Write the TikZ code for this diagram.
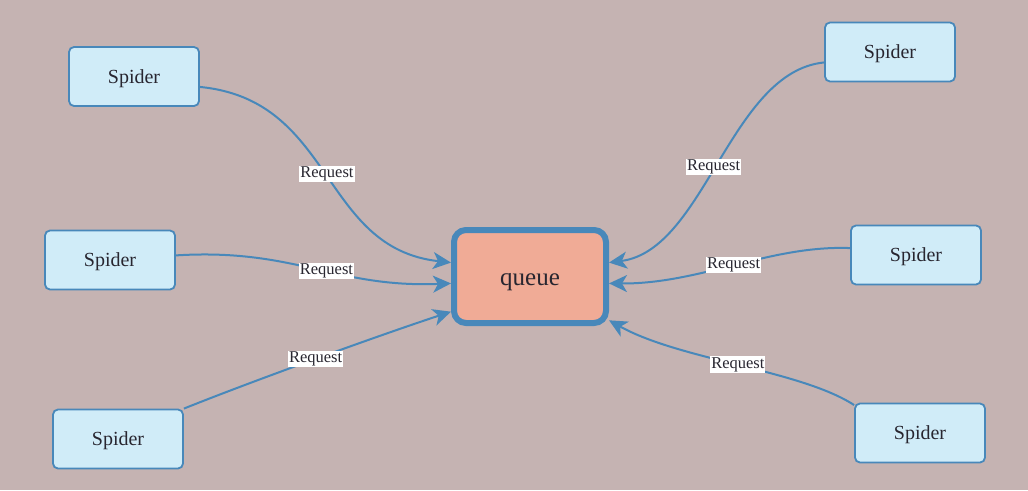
\documentclass[tikz,border=0pt]{standalone}
\usepackage{fontspec}
\setmainfont{Liberation Serif}
\usetikzlibrary{arrows.meta}
\definecolor{bgpaper}{RGB}{197,179,178}
\definecolor{linkblue}{RGB}{72,136,186}
\definecolor{spiderfill}{RGB}{208,236,248}
\definecolor{queuefill}{RGB}{240,171,150}
\definecolor{inkdark}{RGB}{40,38,48}
\begin{document}
\begin{tikzpicture}[x=1pt,y=-1pt,
  spiderbox/.style={draw=linkblue, line width=1.8pt, fill=spiderfill, rounded corners=5pt,
    minimum width=130pt, minimum height=59pt, text=inkdark, font=\fontsize{20}{22}\selectfont,
    text height=13pt, text depth=0pt},
  queuebox/.style={draw=linkblue, line width=6pt, fill=queuefill, rounded corners=12pt,
    minimum width=152pt, minimum height=93pt, text=inkdark, font=\fontsize{25}{28}\selectfont,
    text height=18pt, text depth=0pt},
  link/.style={draw=linkblue, line width=2pt, -{Stealth[length=18pt,width=17pt,inset=5pt]}},
  reqlabel/.style={fill=white, inner sep=1pt, text=inkdark, font=\fontsize{16.5}{18}\selectfont}]
\useasboundingbox (0,0) rectangle (1028,490);
\fill[bgpaper] (0,0) rectangle (1028,490);
\node[queuebox] (queue) at (530,276.5) {queue};
\node[spiderbox] (tl) at (134,76.5) {Spider};
\node[spiderbox] (ml) at (110,260) {Spider};
\node[spiderbox] (bl) at (118,439) {Spider};
\node[spiderbox] (tr) at (890,52) {Spider};
\node[spiderbox] (mr) at (916,255) {Spider};
\node[spiderbox] (br) at (920,433) {Spider};
\draw[link] (tl.-9) .. controls (335,100) and (320,248) .. (queue.170) node[pos=0.5, reqlabel] {Request};
\draw[link] (ml.4) .. controls (295,248) and (335,288) .. (queue.185) node[pos=0.55, reqlabel] {Request};
\draw[link] (bl.north east) .. controls (250,382) and (380,335) .. (queue.204) node[pos=0.5, reqlabel] {Request};
\draw[link] (tr.189) .. controls (730,72) and (705,250) .. (queue.10) node[pos=0.52, reqlabel] {Request};
\draw[link] (mr.174) .. controls (770,245) and (700,284) .. (queue.-5) node[pos=0.5, reqlabel] {Request};
\draw[link] (br.157) .. controls (800,370) and (680,360) .. (queue.-29) node[pos=0.5, reqlabel] {Request};
\end{tikzpicture}
\end{document}
